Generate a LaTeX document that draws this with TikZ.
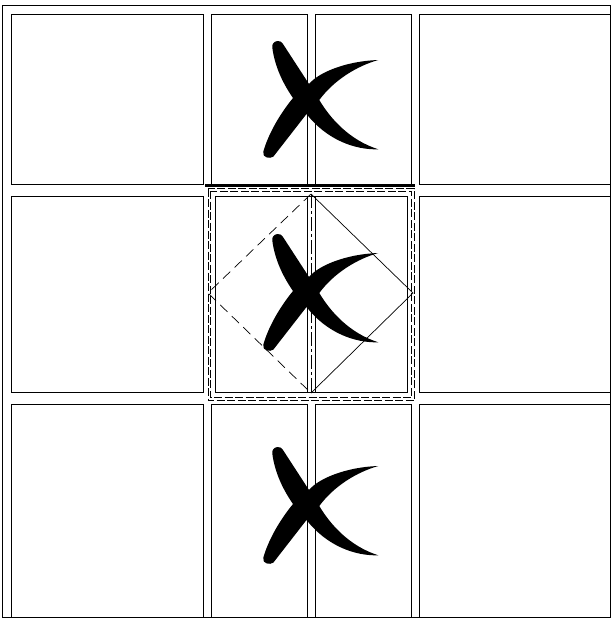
\documentclass[tikz,border=0pt]{standalone}
\usepackage{tikz}
\tikzset{
  cellbox/.style={draw=black, line width=0.8pt},
  frameline/.style={draw=black, line width=0.9pt, dash pattern=on 8pt off 2.5pt},
  foldline/.style={draw=black, line width=0.7pt},
  cross/.pic={
    \fill[black] (-29.7,-57) .. controls (-27,-57.5) and (-25.5,-56) .. (-24,-54)
      -- (2,-14) .. controls (12,-26) and (40,-37) .. (71.3,-38)
      .. controls (50,-32) and (27,-18) .. (12.3,2)
      .. controls (23,20) and (42,42) .. (71.3,51.3)
      .. controls (48,52) and (20,42) .. (-0.5,16)
      -- (-33.7,58.7) .. controls (-37,61) and (-45,60) .. (-43.7,53.7)
      .. controls (-39,37) and (-28,17) .. (-14,0)
      .. controls (-23,-13) and (-32,-30) .. (-34.7,-50.3)
      .. controls (-35.3,-54) and (-33,-56.5) .. (-29.7,-57) -- cycle;
  },
}
\begin{document}
\begin{tikzpicture}[x=1pt, y=-1pt]
\useasboundingbox (0,0) rectangle (612,624);
% outer frame
\draw[cellbox] (2.5,5) rectangle (610.5,617);
% grid of cells
\foreach \xa/\xb in {11/203, 211/307, 315/411, 419/610.5} {
  \draw[cellbox] (\xa,14) rectangle (\xb,184);
  \draw[cellbox] (\xa,404) rectangle (\xb,617);
}
\foreach \xa/\xb in {11/203, 419/610.5} {
  \draw[cellbox] (\xa,196) rectangle (\xb,392);
}
\draw[cellbox] (215,196) rectangle (407,392);
% middle cell marks
\draw[line width=3pt] (205,185) -- (415,185);
\draw[frameline] (208,188.5) rectangle (414,400.5);
\draw[frameline] (210.5,191) rectangle (411.5,397.5);
\draw[foldline] (307,196) -- (307,392);
\draw[foldline] (315,196) -- (315,392);
\draw[foldline, dash pattern=on 14pt off 3pt on 3pt off 3pt] (311,194) -- (311,393);
\draw[foldline, dash pattern=on 10pt off 6pt] (311,194) -- (208,293) -- (311,393);
\draw[foldline] (311,194) -- (413,293) -- (311,393);
% the three marks
\foreach \cy in {98, 291, 504} {
  \pic at (307,\cy) {cross};
}
\end{tikzpicture}
\end{document}
